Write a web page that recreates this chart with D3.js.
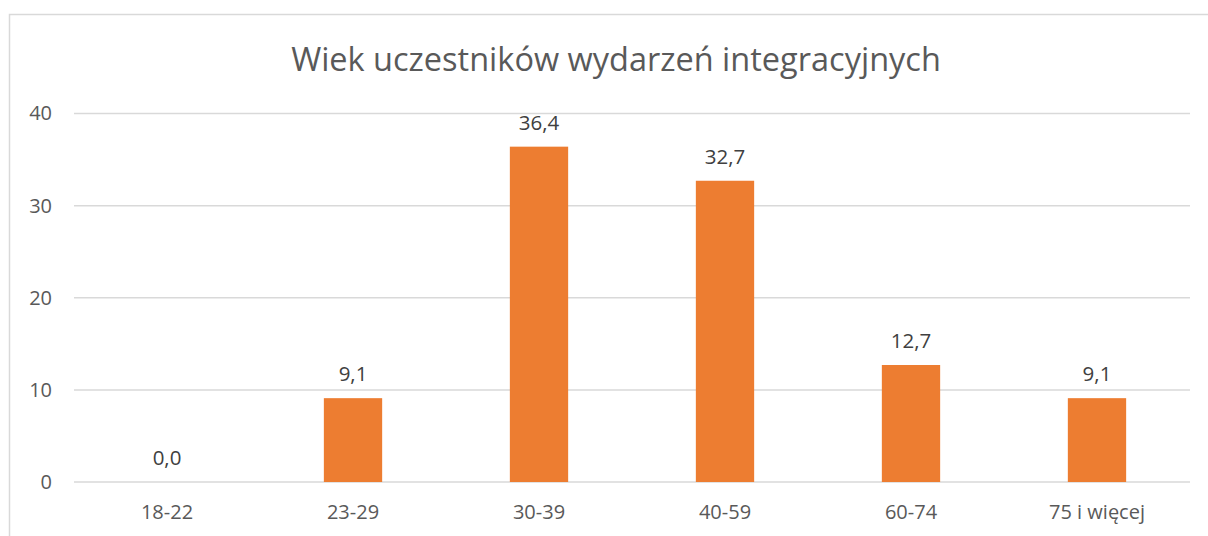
<!DOCTYPE html>
<html>
<head>
<meta charset="utf-8">
<script src="https://cdn.jsdelivr.net/npm/d3@7"></script>
<style>
  body { margin: 0; background: #fff; }
  text { font-family: "Open Sans", "Noto Sans", sans-serif; }
</style>
</head>
<body>
<div id="chart"></div>
<script>
// data
let categories = ['18-22', '23-29', '30-39', '40-59', '60-74', '75 i więcej'];
let values = [0.0, 9.1, 36.4, 32.7, 12.7, 9.1];
let yTicks = [0, 10, 20, 30, 40];
let title = 'Wiek uczestników wydarzeń integracyjnych';

let svgWidth = 1208;
let svgHeight = 536;

let margin = { top: 113.5, right: 18, bottom: 54, left: 74 };
let width = svgWidth - margin.left - margin.right;
let height = svgHeight - margin.top - margin.bottom;

let svg = d3.select('#chart').append('svg')
  .attr('width', svgWidth)
  .attr('height', svgHeight);

// chart border
svg.append('rect')
  .attr('x', 9.5)
  .attr('y', 14.5)
  .attr('width', svgWidth)
  .attr('height', svgHeight)
  .attr('fill', 'none')
  .attr('stroke', '#d9d9d9')
  .attr('stroke-width', 1.5);

svg.append('text')
  .attr('x', 616)
  .attr('y', 71)
  .attr('text-anchor', 'middle')
  .attr('font-size', '32.5px')
  .attr('fill', '#595959')
  .text(title);

let chartGroup = svg.append('g')
  .attr('transform', `translate(${margin.left}, ${margin.top})`);

let xScale = d3.scaleBand()
  .domain(categories)
  .range([0, width])
  .paddingInner(0.6865)
  .paddingOuter(0.3433);

let yScale = d3.scaleLinear()
  .domain([0, 40])
  .range([height, 0]);

// gridlines
chartGroup.append('g')
  .selectAll('line')
  .data(yTicks)
  .enter()
  .append('line')
  .attr('x1', 0)
  .attr('x2', width)
  .attr('y1', d => yScale(d))
  .attr('y2', d => yScale(d))
  .attr('stroke', '#d9d9d9')
  .attr('stroke-width', 1.5);

// y axis
let leftAxis = d3.axisLeft(yScale).tickValues(yTicks).tickSize(0).tickPadding(22);
let yAxis = chartGroup.append('g').call(leftAxis);
yAxis.select('.domain').remove();
yAxis.selectAll('text')
  .attr('font-size', '20px')
  .attr('fill', '#595959')
  .style('font-family', '"Open Sans", sans-serif');

// x axis
let bottomAxis = d3.axisBottom(xScale).tickSize(0).tickPadding(23);
let xAxis = chartGroup.append('g')
  .attr('transform', `translate(0, ${height})`)
  .call(bottomAxis);
xAxis.select('.domain').remove();
xAxis.selectAll('text')
  .attr('font-size', '20px')
  .attr('fill', '#595959')
  .style('font-family', '"Open Sans", sans-serif');

// bars
chartGroup.selectAll('.bar')
  .data(values)
  .enter()
  .append('rect')
  .classed('bar', true)
  .attr('x', (d, i) => xScale(categories[i]))
  .attr('y', d => yScale(d))
  .attr('width', xScale.bandwidth())
  .attr('height', d => height - yScale(d))
  .attr('fill', '#ed7d31');

// data labels
chartGroup.selectAll('.label')
  .data(values)
  .enter()
  .append('text')
  .classed('label', true)
  .attr('x', (d, i) => xScale(categories[i]) + xScale.bandwidth() / 2)
  .attr('y', d => yScale(d) - 17)
  .attr('text-anchor', 'middle')
  .attr('font-size', '20.5px')
  .attr('fill', '#404040')
  .text(d => d.toFixed(1).replace('.', ','));
</script>
</body>
</html>
